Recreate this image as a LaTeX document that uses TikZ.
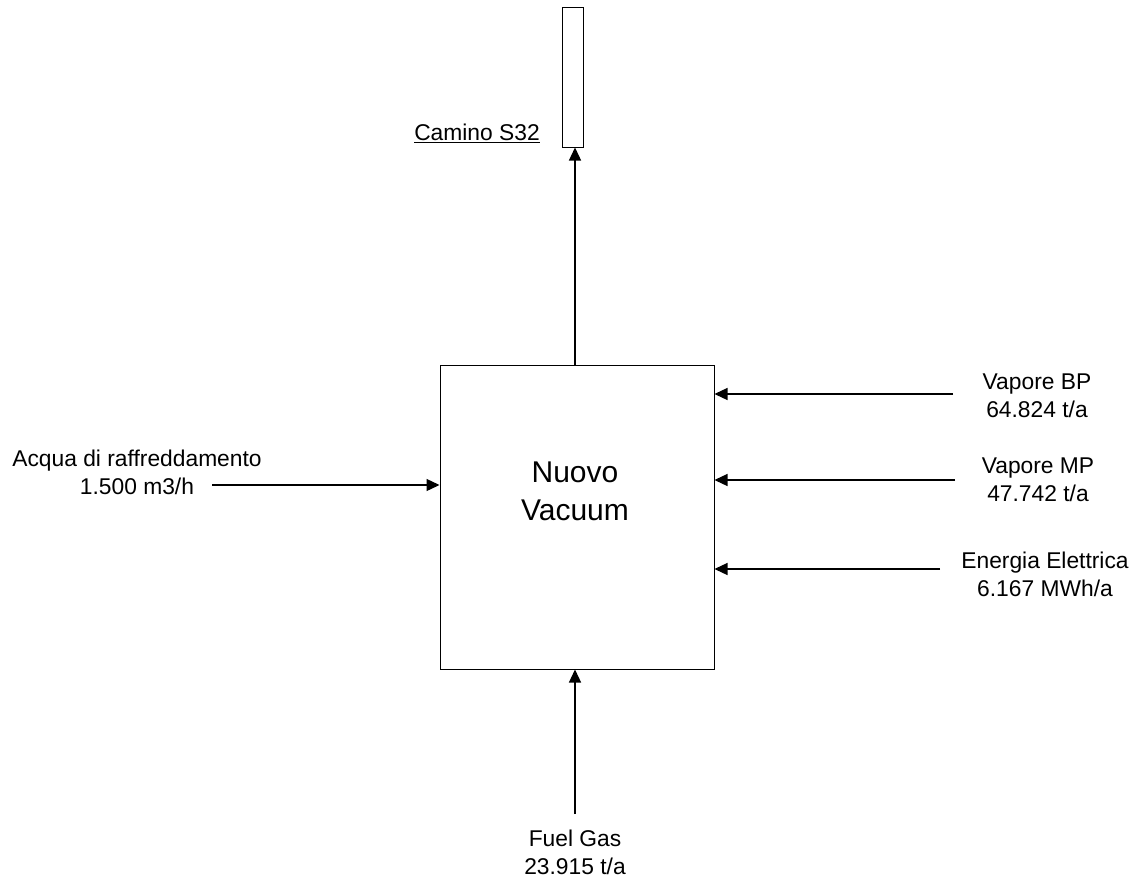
\documentclass[tikz,border=0pt]{standalone}
\usepackage{fontspec}
\setmainfont{Liberation Sans}
\usetikzlibrary{arrows.meta}

\begin{document}
\begin{tikzpicture}[x=1pt, y=-1pt,
  flow/.style={line width=1.3pt, -{Triangle[length=13pt, width=12pt]}},
  unitbox/.style={draw, line width=1pt, inner sep=0pt},
  lbl/.style={align=center, inner sep=0pt, font=\fontsize{22.8}{28}\selectfont}]
\path (0,0) rectangle (1132,881);
\node[unitbox, minimum width=274pt, minimum height=304pt] (vacuum) at (577,517) {};
\node[align=center, inner sep=0pt, font=\fontsize{30}{38}\selectfont] (vacuumlbl) at (575,491) {Nuovo\\Vacuum};
\node[unitbox, minimum width=21pt, minimum height=140pt] (camino) at (572.5,77) {};
\node[lbl] (caminolbl) at (477,133) {\underline{Camino S32}};
\node[lbl] (vbp) at (1037,396) {Vapore BP\\64.824 t/a};
\node[lbl] (vmp) at (1038,480) {Vapore MP\\47.742 t/a};
\node[lbl] (ee) at (1045,574) {Energia Elettrica\\6.167 MWh/a};
\node[lbl] (acqua) at (137,472) {Acqua di raffreddamento\\1.500 m3/h};
\node[lbl] (fuel) at (575,852) {Fuel Gas\\23.915 t/a};
\coordinate (vbpstart) at (953,394);
\coordinate (vmpstart) at (955,480);
\coordinate (eestart) at (940,569);
\coordinate (acquastart) at (212,485);
\coordinate (fuelstart) at (575,814);
\coordinate (caminostart) at (575,365);
\draw[flow] (caminostart) -- (caminostart |- camino.south);
\draw[flow] (vbpstart) -- (vbpstart -| vacuum.east);
\draw[flow] (vmpstart) -- (vmpstart -| vacuum.east);
\draw[flow] (eestart) -- (eestart -| vacuum.east);
\draw[flow] (acquastart) -- (acquastart -| vacuum.west);
\draw[flow] (fuelstart) -- (fuelstart |- vacuum.south);
\end{tikzpicture}
\end{document}
